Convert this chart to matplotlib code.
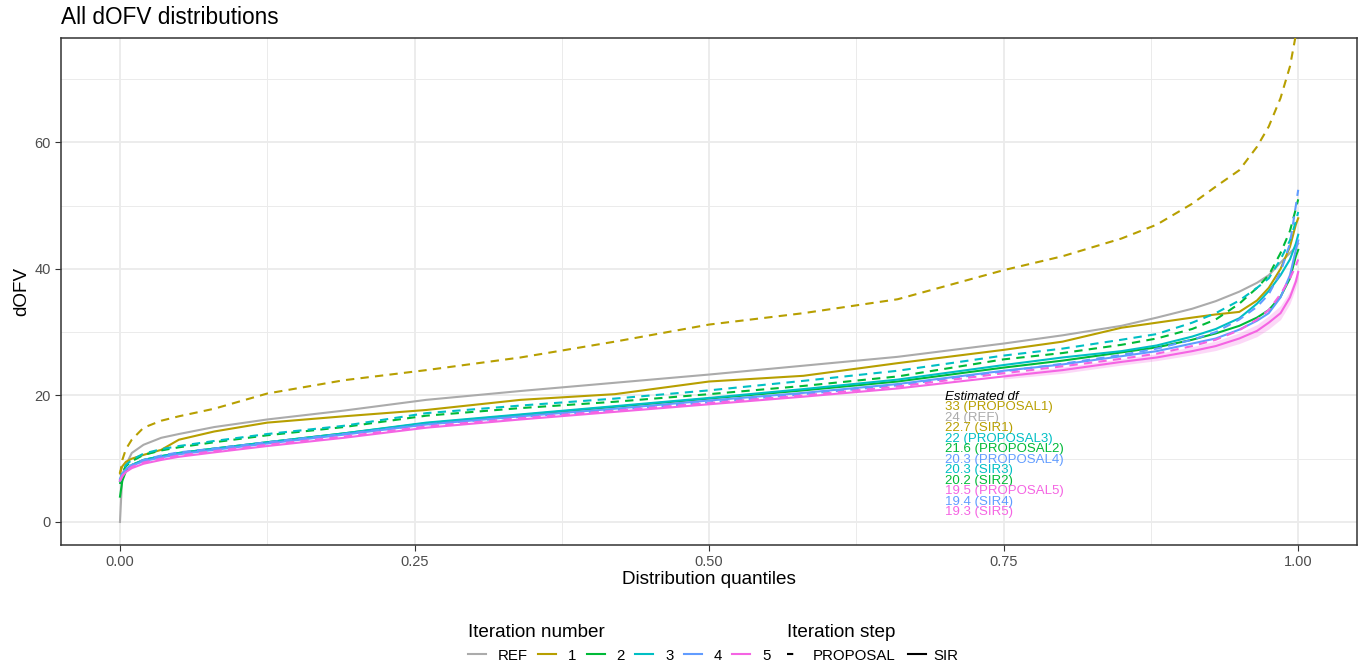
import matplotlib
matplotlib.use("Agg")
import matplotlib.pyplot as plt
from matplotlib.lines import Line2D
from matplotlib.ticker import MultipleLocator

plt.rcParams['font.family'] = ['Liberation Sans', 'DejaVu Sans']

# distribution quantiles shared by every curve
quantiles = [0, 0.002, 0.005, 0.01, 0.02, 0.035, 0.05, 0.08, 0.125, 0.19, 0.26, 0.34, 0.42, 0.5,
             0.58, 0.66, 0.75, 0.8, 0.85, 0.88, 0.91, 0.93, 0.95, 0.965, 0.975, 0.985, 0.993, 0.998, 1.0]

ref = [0, 7.5, 9.0, 10.9, 12.2, 13.3, 13.9, 15.0, 16.2, 17.6, 19.3, 20.7, 22.0, 23.3,
       24.7, 26.1, 28.2, 29.5, 31.0, 32.3, 33.7, 34.9, 36.4, 37.8, 39.0, 41.0, 42.5, 43.5, 44.0]
proposal1 = [7.5, 9.8, 11.5, 13.0, 14.9, 16.0, 16.7, 17.9, 20.3, 22.4, 24.0, 26.0, 28.5, 31.2,
             33.0, 35.2, 39.8, 42.0, 44.8, 47.0, 50.3, 53.0, 55.6, 59.3, 62.5, 67.0, 72.0, 77.0, 79.0]
sir1 = [7.8, 8.8, 9.5, 10.0, 10.6, 11.4, 13.0, 14.3, 15.7, 16.7, 17.7, 19.3, 20.2, 22.2,
        23.1, 25.1, 27.2, 28.5, 30.7, 31.5, 32.3, 32.8, 33.2, 35.0, 37.0, 40.0, 43.5, 47.0, 48.0]
proposal2 = [6.0, 7.8, 8.8, 9.6, 10.6, 11.3, 11.8, 12.6, 13.7, 15.0, 16.8, 18.0, 19.0, 20.2,
             21.5, 23.0, 25.7, 26.7, 28.0, 29.0, 30.5, 32.0, 34.5, 37.0, 39.0, 42.5, 46.0, 49.5, 51.0]
sir2 = [4.0, 6.5, 8.0, 9.0, 9.8, 10.4, 10.9, 11.6, 12.6, 14.0, 15.6, 16.9, 18.2, 19.5,
        20.8, 22.2, 24.4, 25.5, 26.8, 27.6, 28.8, 29.8, 31.0, 32.3, 33.5, 35.6, 38.5, 42.0, 43.0]
proposal3 = [6.5, 8.0, 9.0, 9.8, 10.8, 11.5, 12.0, 12.8, 13.9, 15.2, 17.2, 18.4, 19.5, 20.8,
             22.3, 23.9, 26.3, 27.4, 28.8, 29.7, 31.5, 33.0, 35.0, 37.0, 38.5, 41.5, 44.5, 47.5, 49.0]
sir3 = [6.5, 7.5, 8.3, 9.0, 9.8, 10.4, 10.9, 11.6, 12.6, 14.0, 15.7, 17.0, 18.3, 19.6,
        21.0, 22.5, 24.8, 26.0, 27.0, 27.9, 29.3, 30.5, 32.2, 34.5, 36.5, 39.0, 41.5, 44.0, 45.4]
proposal4 = [6.5, 7.5, 8.3, 9.0, 9.8, 10.5, 11.0, 11.6, 12.6, 13.9, 15.4, 16.6, 17.7, 18.9,
             20.2, 21.6, 23.8, 25.0, 26.4, 27.4, 28.8, 30.0, 32.0, 34.0, 36.0, 39.5, 44.0, 50.0, 52.5]
sir4 = [6.8, 7.6, 8.3, 8.9, 9.6, 10.2, 10.7, 11.4, 12.4, 13.8, 15.4, 16.7, 17.9, 19.2,
        20.4, 21.8, 23.9, 24.9, 26.2, 27.0, 28.2, 29.0, 30.4, 31.8, 33.0, 35.5, 39.0, 43.0, 44.5]
proposal5 = [6.5, 7.3, 8.0, 8.7, 9.4, 10.0, 10.5, 11.2, 12.2, 13.5, 15.1, 16.4, 17.6, 18.8,
             20.0, 21.4, 23.5, 24.6, 25.8, 26.6, 27.8, 28.8, 30.3, 32.0, 33.5, 36.0, 38.5, 40.5, 41.5]
sir5 = [6.5, 7.2, 7.9, 8.5, 9.2, 9.8, 10.3, 11.0, 12.0, 13.3, 14.9, 16.2, 17.4, 18.6,
        19.8, 21.1, 23.0, 24.0, 25.3, 26.0, 27.0, 27.8, 29.0, 30.2, 31.5, 33.0, 35.5, 38.0, 39.5]

# shaded band around SIR5 tail
band_q = [0.75, 0.8, 0.85, 0.88, 0.91, 0.93, 0.95, 0.965, 0.975, 0.985, 0.993, 0.998, 1.0]
band_lo = [22.6, 23.5, 24.8, 25.5, 26.4, 27.1, 28.2, 29.3, 30.5, 32.0, 34.5, 37.0, 38.5]
band_hi = [23.4, 24.5, 25.8, 26.6, 27.7, 28.6, 29.9, 31.2, 32.6, 34.2, 36.5, 39.0, 40.5]

iter_labels = ['REF', '1', '2', '3', '4', '5']
iter_colors = ['#ABABAB', '#B79F00', '#00BA38', '#00BFC4', '#619CFF', '#F564E3']

df_labels = ['33 (PROPOSAL1)', '24 (REF)', '22.7 (SIR1)', '22 (PROPOSAL3)', '21.6 (PROPOSAL2)',
             '20.3 (PROPOSAL4)', '20.3 (SIR3)', '20.2 (SIR2)', '19.5 (PROPOSAL5)', '19.4 (SIR4)',
             '19.3 (SIR5)']
df_colors = ['#B79F00', '#ABABAB', '#B79F00', '#00BFC4', '#00BA38', '#619CFF', '#00BFC4',
             '#00BA38', '#F564E3', '#619CFF', '#F564E3']

fig = plt.figure(figsize=(13.66, 6.66), dpi=100)
ax = fig.add_axes([0.0447, 0.1817, 0.9488, 0.7613])

curves = [
    (ref, 0, '-'),
    (proposal1, 1, '--'), (sir1, 1, '-'),
    (proposal2, 2, '--'), (sir2, 2, '-'),
    (proposal3, 3, '--'), (sir3, 3, '-'),
    (proposal4, 4, '--'), (sir4, 4, '-'),
    (proposal5, 5, '--'), (sir5, 5, '-'),
]
ax.fill_between(band_q, band_lo, band_hi, color=iter_colors[5], alpha=0.25, lw=0, zorder=2)
for vals, ci, ls in curves:
    line, = ax.plot(quantiles, vals, color=iter_colors[ci], lw=1.5, ls=ls, zorder=3)
    if ls == '--':
        line.set_dashes((4, 3))

ax.set_xlim(-0.05, 1.05)
ax.set_ylim(-3.64, 76.5)
ax.set_xticks([0, 0.25, 0.5, 0.75, 1.0])
ax.set_xticklabels(['0.00', '0.25', '0.50', '0.75', '1.00'])
ax.set_yticks([0, 20, 40, 60])
ax.xaxis.set_minor_locator(MultipleLocator(0.125))
ax.yaxis.set_minor_locator(MultipleLocator(10))
ax.grid(which='major', color='#EBEBEB', lw=1.3, zorder=0)
ax.grid(which='minor', color='#EBEBEB', lw=0.7, zorder=0)
ax.set_axisbelow(True)
ax.tick_params(which='major', length=4, color='#333333', labelcolor='#4D4D4D', labelsize=10.5)
ax.tick_params(which='minor', length=0)
for s in ax.spines.values():
    s.set_color('#333333')
    s.set_linewidth(1.1)

ax.set_xlabel('Distribution quantiles', fontsize=13.6, labelpad=1)
ax.set_ylabel('dOFV', fontsize=13.6, labelpad=3)
fig.text(0.0447, 0.974, 'All dOFV distributions', fontsize=16.3, ha='left', va='center')

# estimated df annotation
ax.text(0.70, 19.8, 'Estimated df', fontsize=9.5, style='italic', color='black', va='center')
for i, (lab, c) in enumerate(zip(df_labels, df_colors)):
    ax.text(0.70, 19.8 - 1.66 * (i + 1), lab, fontsize=9.5, color=c, va='center')

# legends
h1 = [Line2D([], [], color=c, lw=1.5) for c in iter_colors]
leg1 = fig.legend(h1, iter_labels, title='Iteration number', ncol=6, frameon=False,
                  loc='upper left', bbox_to_anchor=(0.337, 0.074), fontsize=10.8,
                  title_fontsize=13.6, handlelength=1.2, handletextpad=0.8, columnspacing=0.68,
                  borderpad=0, alignment='left')
h2 = [Line2D([], [], color='black', lw=1.5, dashes=(3, 30)),
      Line2D([], [], color='black', lw=1.5)]
leg2 = fig.legend(h2, ['PROPOSAL', 'SIR'], title='Iteration step', ncol=2, frameon=False,
                  loc='upper left', bbox_to_anchor=(0.571, 0.074), fontsize=10.8,
                  title_fontsize=13.6, handlelength=1.2, handletextpad=0.5, columnspacing=0.8,
                  borderpad=0, alignment='left')

fig.savefig('out.png', dpi=100)
